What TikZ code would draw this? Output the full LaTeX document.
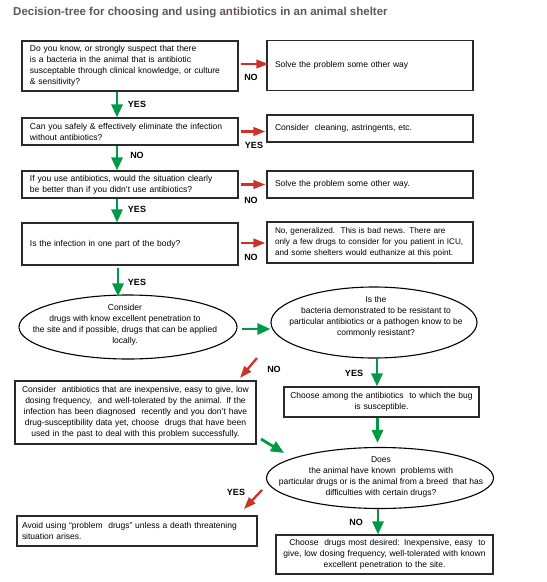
\documentclass[tikz,border=0pt]{standalone}
\usepackage{fontspec}
\setmainfont{Liberation Sans}
\usetikzlibrary{arrows.meta,shapes.geometric,calc}
\definecolor{arrgreen}{HTML}{009A46}
\definecolor{arrred}{HTML}{CC3328}
\definecolor{titlegray}{HTML}{615856}
\definecolor{boxline}{HTML}{2A2A2A}
\tikzset{
  txt/.style={font=\fontsize{8.5}{11}\selectfont},
  box/.style={draw=boxline, line width=1.1pt, rectangle, inner ysep=0pt, txt},
  lbox/.style={box, align=left, inner xsep=8pt},
  cbox/.style={box, align=center, inner xsep=2pt},
  oval/.style={draw=black, line width=1.1pt, ellipse, inner sep=0pt},
  otext/.style={txt, align=center, inner sep=0pt},
  garr/.style={draw=arrgreen, line width=2.8pt, -{Triangle[length=13pt,width=11pt]}, fill=arrgreen},
  rarr/.style={draw=arrred, line width=2.3pt, -{Triangle[length=12pt,width=8.5pt]}, fill=arrred},
  lab/.style={font=\fontsize{9}{10}\selectfont\bfseries, text=black, inner sep=0pt},
}
\begin{document}
\begin{tikzpicture}[x=1pt,y=-1pt]
\useasboundingbox (0,0) rectangle (547,582);
\node[font=\fontsize{11.5}{13}\selectfont\bfseries, text=titlegray, anchor=west, inner sep=0pt] (title) at (13,13) {Decision-tree for choosing and using antibiotics in an animal shelter};

% left column boxes
\node[lbox, minimum width=216pt, minimum height=50pt, text width=200pt] (b1) at (130,66) {Do you know, or strongly suspect that there\\is a bacteria in the animal that is antibiotic\\susceptable through clinical knowledge, or culture\\\& sensitivity?};
\node[lbox, minimum width=216pt, minimum height=27pt, text width=200pt] (b2) at (130,131.5) {Can you safely \& effectively eliminate the infection\\without antibiotics?};
\node[lbox, minimum width=216pt, minimum height=27pt, text width=200pt] (b3) at (130,184.5) {If you use antibiotics, would the situation clearly\\be better than if you didn't use antibiotics?};
\node[lbox, minimum width=216pt, minimum height=42pt, text width=200pt] (b4) at (130,244) {Is the infection in one part of the body?};

% right column boxes
\node[lbox, minimum width=206pt, minimum height=50pt, text width=190pt] (b1r) at (370,65.5) {Solve the problem some other way\\[3pt]};
\node[lbox, minimum width=206pt, minimum height=27pt, text width=190pt] (b2r) at (370,128.5) {Consider\ \ cleaning, astringents, etc.};
\node[lbox, minimum width=206pt, minimum height=27pt, text width=190pt] (b3r) at (370,184.5) {Solve the problem some other way.};
\node[lbox, font=\fontsize{8.2}{11}\selectfont, inner xsep=4pt, minimum width=206pt, minimum height=41pt, text width=198pt] (b4r) at (370,242.5) {\mbox{\hspace*{4pt}No, generalized.\ \ This is bad news. There are}\\\mbox{\hspace*{4pt}only a few drugs to consider for you patient in ICU,}\\\mbox{\hspace*{4pt}and some shelters would euthanize at this point.}};

% ellipses
\node[oval, minimum width=218pt, minimum height=64pt] (e1) at (128,327) {};
\node[otext] (e1t) at (125,324.5) {Consider\\drugs with know excellent penetration to\\the site and if possible, drugs that can be applied\\locally.};
\node[oval, minimum width=206pt, minimum height=71pt] (e2) at (374,322.5) {};
\node[otext] (e2t) at (376,317) {Is the\\bacteria demonstrated to be resistant to\\particular antibiotics or a pathogen know to be\\commonly resistant?};
\node[oval, minimum width=227pt, minimum height=61pt] (e3) at (380,478) {};
\node[otext] (e3t) at (381,476.5) {Does\\the animal have known\ \ problems with\\particular drugs or is the animal from a breed\ \ that has\\difficulties with certain drugs?};

% lower boxes
\node[cbox, minimum width=241pt, minimum height=63pt, text width=237pt] (b5) at (135.5,412.5) {Consider\ \ antibiotics that are inexpensive, easy to give, low\\dosing frequency,\ \ and well-tolerated by the animal. If the\\infection has been diagnosed\ \ recently and you don't have\\drug-susceptibility data yet, choose\ \ drugs that have been\\used in the past to deal with this problem successfully.};
\node[cbox, minimum width=195pt, minimum height=30pt, text width=191pt] (b6) at (381.5,402) {Choose among the antibiotics\ \ to which the bug\\is susceptible.};
\node[box, align=left, inner xsep=5pt, minimum width=240pt, minimum height=30pt, text width=230pt] (b7) at (137,531) {Avoid using “problem\ \ drugs” unless a death threatening\\situation arises.};
\node[cbox, minimum width=217pt, minimum height=39pt, text width=213pt] (b8) at (384.5,554.5) {\ \ Choose\ \ drugs most desired: Inexpensive, easy\ \ to\\give, low dosing frequency, well-tolerated with known\\excellent penetration to the site.};

% red arrows (horizontal)
\draw[rarr] ([xshift=2pt,yshift=2pt]b1.east) -- ([xshift=2pt,yshift=2pt]b1.east -| b1r.west);
\draw[rarr] ([xshift=2pt]b2.east) -- ([xshift=-1pt]b2.east -| b2r.west);
\draw[rarr] ([xshift=2pt]b3.east) -- ([xshift=-1pt]b3r.west);
\draw[rarr] ([xshift=2pt,yshift=1pt]b4.east) -- ([xshift=-1pt,yshift=1pt]b4.east -| b4r.west);
\node[lab] (n1) at (251,77) {NO};
\node[lab] (y2) at (254,145) {YES};
\node[lab] (n3) at (251,200) {NO};
\node[lab] (n4) at (251,257) {NO};

% green vertical arrows left column
\draw[garr] ([xshift=-13pt]b1.south) -- ([xshift=-13pt]b2.north);
\draw[garr] ([xshift=-13pt]b2.south) -- ([xshift=-13pt]b3.north);
\draw[garr] ([xshift=-13pt]b3.south) -- ([xshift=-13pt]b4.north);
\draw[garr] ([xshift=-12pt,yshift=-2pt]b4.south) -- ([xshift=-12pt,yshift=-2pt]b4.south |- e1.north);
\node[lab] (y1) at (137,104) {YES};
\node[lab] (n2) at (137,155) {NO};
\node[lab] (y3) at (137,209) {YES};
\node[lab] (y4) at (137,282) {YES};

% ellipse 1 -> ellipse 2
\coordinate (g5s) at (242,329);
\draw[garr] (g5s) -- (g5s -| e2.west);

% e2 -> b5 (red), e2 -> b6 (green)
\coordinate (r5s) at (257,358);
\coordinate (r5e) at (240,378);
\draw[rarr] (r5s) -- (r5e);
\node[lab] (n5) at (274,369) {NO};
\draw[garr] ([xshift=3pt]e2.south) -- ([xshift=3pt]e2.south |- b6.north);
\node[lab] (y5) at (354,373) {YES};

% b6 -> e3, b5 -> e3
\draw[garr] ([xshift=-4pt]b6.south) -- ([xshift=-4pt,yshift=4pt]b6.south |- e3.north);
\coordinate (g8s) at (261,439);
\coordinate (g8e) at (284,453);
\draw[garr] (g8s) -- (g8e);

% e3 -> b7 (red), e3 -> b8 (green)
\coordinate (r6s) at (262,490);
\coordinate (r6e) at (244,509);
\draw[rarr] (r6s) -- (r6e);
\node[lab] (y6) at (236,492) {YES};
\draw[garr] ([xshift=-2pt]e3.south) -- ([xshift=-2pt]e3.south |- b8.north);
\node[lab] (n6) at (356,522) {NO};
\end{tikzpicture}
\end{document}
